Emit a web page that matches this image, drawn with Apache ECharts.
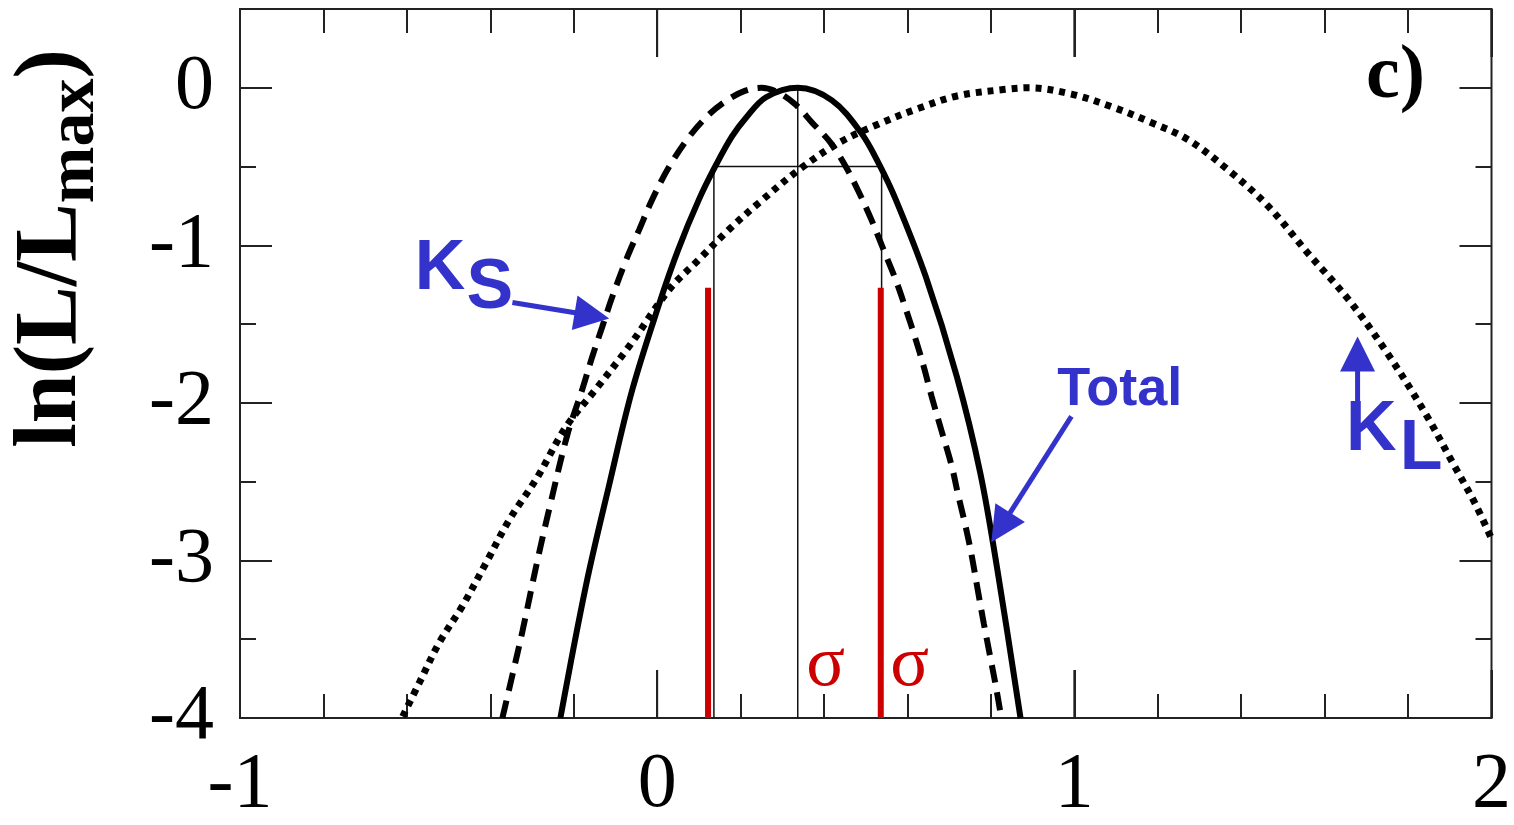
<!DOCTYPE html>
<html>
<head>
<meta charset="utf-8">
<script src="https://cdn.jsdelivr.net/npm/echarts@6/dist/echarts.min.js"></script>
<style>
  html, body { margin: 0; padding: 0; background: #ffffff; }
  #chart { width: 1514px; height: 825px; }
</style>
</head>
<body>
<div id="chart"></div>
<script>
// Profile log-likelihood ln(L/Lmax) for the K_S fit, the K_L fit and their total.

const xRange = [-1, 2];
const yRange = [-4, 0.5];
const xMajorTicks = [-1, 0, 1, 2];

// Total (solid)
const totalCurve = [
  [-0.232, -4.0], [-0.170, -3.15], [-0.115, -2.52], [-0.060, -1.92], [0.005, -1.37],
  [0.050, -1.03], [0.100, -0.71], [0.141, -0.49], [0.179, -0.31], [0.213, -0.19], [0.261, -0.06],
  [0.337, 0.0], [0.419, -0.08], [0.490, -0.29], [0.531, -0.48], [0.572, -0.71],
  [0.644, -1.20], [0.718, -1.83], [0.775, -2.45], [0.818, -3.10], [0.871, -4.0]
];

// K_S (dashed)
const ksCurve = [
  [-0.371, -4.0], [-0.349, -3.75], [-0.323, -3.45], [-0.287, -3.0], [-0.254, -2.62],
  [-0.215, -2.20], [-0.179, -1.91], [-0.156, -1.71], [-0.132, -1.52], [-0.108, -1.33],
  [-0.074, -1.09], [-0.043, -0.90], [-0.012, -0.71], [0.029, -0.50], [0.077, -0.31],
  [0.124, -0.17], [0.167, -0.08], [0.210, -0.02], [0.250, 0.0], [0.290, -0.03],
  [0.333, -0.11], [0.371, -0.22], [0.416, -0.35], [0.452, -0.50], [0.483, -0.66],
  [0.514, -0.84], [0.543, -1.03], [0.572, -1.22], [0.598, -1.42], [0.620, -1.60],
  [0.639, -1.77], [0.658, -1.96], [0.682, -2.18], [0.706, -2.40], [0.722, -2.59],
  [0.739, -2.78], [0.754, -2.97], [0.768, -3.18], [0.783, -3.40], [0.799, -3.62],
  [0.812, -3.80], [0.825, -4.0]
];

// K_L (dotted)
const klCurve = [
  [-0.610, -3.99], [-0.569, -3.77], [-0.522, -3.52], [-0.467, -3.29], [-0.409, -3.01],
  [-0.354, -2.74], [-0.289, -2.48], [-0.218, -2.15], [-0.146, -1.91], [-0.067, -1.64],
  [0.029, -1.28], [0.100, -1.09], [0.172, -0.90], [0.244, -0.73], [0.340, -0.52],
  [0.435, -0.35], [0.531, -0.23], [0.627, -0.13], [0.722, -0.05], [0.835, -0.01],
  [0.890, 0.0], [0.993, -0.04], [1.089, -0.12], [1.184, -0.22], [1.273, -0.33],
  [1.368, -0.52], [1.464, -0.75], [1.560, -1.05], [1.656, -1.34], [1.744, -1.66],
  [1.840, -2.06], [1.911, -2.40], [1.959, -2.63], [1.998, -2.85]
];

// One-sigma construction on the total curve
const sigmaBand = [[0.136, -4], [0.136, -0.5], [0.538, -0.5], [0.538, -4]];
const bestFitLine = [[0.337, 0], [0.337, -4]];
const sigmaMarksX = [0.122, 0.536];
const sigmaMarkTop = -1.27;

const SERIF = "'Liberation Serif', 'Times New Roman', Times, serif";
const SANS = "'Liberation Sans', Arial, Helvetica, sans-serif";
const BLUE = '#3333cc';
const RED = '#cc0000';
const TICK = '#222222';

const chart = echarts.init(document.getElementById('chart'), null, { renderer: 'canvas' });

function xAxisDef(pos, step, len, showLabels) {
  return {
    type: 'value', position: pos, min: xRange[0], max: xRange[1], interval: step,
    axisLine: { show: false, onZero: false },
    splitLine: { show: false },
    axisTick: { show: true, inside: true, length: len, lineStyle: { color: TICK, width: 2 } },
    axisLabel: {
      show: showLabels, margin: 29, fontFamily: SERIF, fontSize: 78, color: '#000',
      showMinLabel: true, showMaxLabel: true,
      formatter: v => String(v)
    }
  };
}

function yAxisDef(pos, step, len, showLabels, withName) {
  const ax = {
    type: 'value', position: pos, min: yRange[0], max: yRange[1], interval: step,
    axisLine: { show: false, onZero: false },
    splitLine: { show: false },
    axisTick: { show: true, inside: true, length: len, lineStyle: { color: TICK, width: 2 } },
    axisLabel: {
      show: showLabels, margin: 26, fontFamily: SERIF, fontSize: 78, color: '#000',
      showMinLabel: true, showMaxLabel: true,
      formatter: v => (v > 0 ? '' : String(v))
    }
  };
  if (withName) {
    ax.name = '{a|ln(L/L}{b|max}{a|)}';
    ax.nameLocation = 'middle';
    ax.nameRotate = 90;
    ax.nameGap = 131;
    ax.nameTextStyle = {
      color: '#000',
      padding: [0, 0, 0, 230],
      rich: {
        a: { fontFamily: SERIF, fontWeight: 'bold', fontSize: 88, lineHeight: 114, color: '#000' },
        b: { fontFamily: SERIF, fontWeight: 'bold', fontSize: 68, lineHeight: 12, color: '#000', verticalAlign: 'bottom' }
      }
    };
  }
  return ax;
}

function lineSeries(name, data, style, z, smooth) {
  return {
    name, type: 'line', data, xAxisIndex: 0, yAxisIndex: 0,
    showSymbol: false, symbol: 'none', smooth, z,
    lineStyle: style, silent: true, animation: false
  };
}

const series = [
  lineSeries('sigma band', sigmaBand, { color: '#111', width: 1.5 }, 1, false),
  lineSeries('best fit', bestFitLine, { color: '#111', width: 1.5 }, 1, false),
  lineSeries('K_L', klCurve, { color: '#000', width: 7, type: [6, 6], cap: 'butt' }, 3, 0.35),
  lineSeries('K_S', ksCurve, { color: '#000', width: 6, type: [18, 10], cap: 'butt' }, 3, 0.35),
  lineSeries('Total', totalCurve, { color: '#000', width: 6, type: 'solid' }, 4, 0.35)
];
sigmaMarksX.forEach((x, i) => {
  series.push(lineSeries('sigma ' + (i + 1), [[x, yRange[0]], [x, sigmaMarkTop]], { color: RED, width: 6 }, 5, false));
});

chart.setOption({
  animation: false,
  backgroundColor: '#ffffff',
  grid: { left: 240, right: 20, top: 9, bottom: 106, show: true, borderColor: '#222', borderWidth: 2, backgroundColor: 'transparent' },
  xAxis: [
    xAxisDef('bottom', 1, 48, true),
    xAxisDef('bottom', 0.2, 24, false),
    xAxisDef('top', 0.2, 24, false),
    xAxisDef('top', 1, 48, false)
  ],
  yAxis: [
    yAxisDef('left', 1, 32, true, true),
    yAxisDef('left', 0.5, 16, false, false),
    yAxisDef('right', 0.5, 16, false, false),
    yAxisDef('right', 1, 32, false, false)
  ],
  series
});

// Annotations placed in data coordinates
const annotations = {
  texts: [
    { text: 'K', at: [-0.581, -1.154], font: SANS, size: 70, weight: 'bold', color: BLUE, align: 'left' },
    { text: 'S', at: [-0.457, -1.277], font: SANS, size: 70, weight: 'bold', color: BLUE, align: 'left' },
    { text: 'Total', at: [0.959, -1.921], font: SANS, size: 54, weight: 'bold', color: BLUE, align: 'left' },
    { text: 'K', at: [1.651, -2.177], font: SANS, size: 70, weight: 'bold', color: BLUE, align: 'left' },
    { text: 'L', at: [1.780, -2.295], font: SANS, size: 70, weight: 'bold', color: BLUE, align: 'left' },
    { text: 'c)', at: [1.699, 0.063], font: SERIF, size: 76, weight: 'bold', color: '#000', align: 'left' },
    { text: 'σ', at: [0.404, -3.670], font: SERIF, size: 72, weight: 'normal', color: RED, align: 'center' },
    { text: 'σ', at: [0.605, -3.670], font: SERIF, size: 72, weight: 'normal', color: RED, align: 'center' }
  ],
  arrows: [
    { from: [-0.347, -1.363], to: [-0.115, -1.464] },
    { from: [0.993, -2.086], to: [0.801, -2.884] },
    { from: [1.679, -2.010], to: [1.679, -1.578] }
  ]
};

function px(pt) { return chart.convertToPixel({ xAxisIndex: 0, yAxisIndex: 0 }, pt); }

const graphics = [];

// Long inward marks at the integer x values, on the bottom and top frame edges
xMajorTicks.forEach(v => {
  const b = px([v, yRange[0]]);
  const t = px([v, yRange[1]]);
  graphics.push({
    type: 'line', z: 2, silent: true,
    shape: { x1: b[0], y1: b[1], x2: b[0], y2: b[1] - 48 },
    style: { stroke: TICK, lineWidth: 2 }
  });
  graphics.push({
    type: 'line', z: 2, silent: true,
    shape: { x1: t[0], y1: t[1], x2: t[0], y2: t[1] + 48 },
    style: { stroke: TICK, lineWidth: 2 }
  });
});

annotations.texts.forEach(t => {
  const p = px(t.at);
  graphics.push({
    type: 'text', x: p[0], y: p[1], z: 20, silent: true,
    style: {
      text: t.text, fontFamily: t.font, fontSize: t.size, fontWeight: t.weight,
      fill: t.color, textAlign: t.align, textVerticalAlign: 'middle'
    }
  });
});
annotations.arrows.forEach(a => {
  const s = px(a.from), e = px(a.to);
  const dx = e[0] - s[0], dy = e[1] - s[1];
  const len = Math.hypot(dx, dy);
  const ux = dx / len, uy = dy / len;
  const head = 35, half = 17.5;
  const bx = e[0] - ux * head, by = e[1] - uy * head;
  graphics.push({
    type: 'line', z: 20, silent: true,
    shape: { x1: s[0], y1: s[1], x2: bx + ux * 2, y2: by + uy * 2 },
    style: { stroke: BLUE, lineWidth: 5 }
  });
  graphics.push({
    type: 'polygon', z: 20, silent: true,
    shape: { points: [[e[0], e[1]], [bx - uy * half, by + ux * half], [bx + uy * half, by - ux * half]] },
    style: { fill: BLUE }
  });
});
chart.setOption({ graphic: graphics });
</script>
</body>
</html>
